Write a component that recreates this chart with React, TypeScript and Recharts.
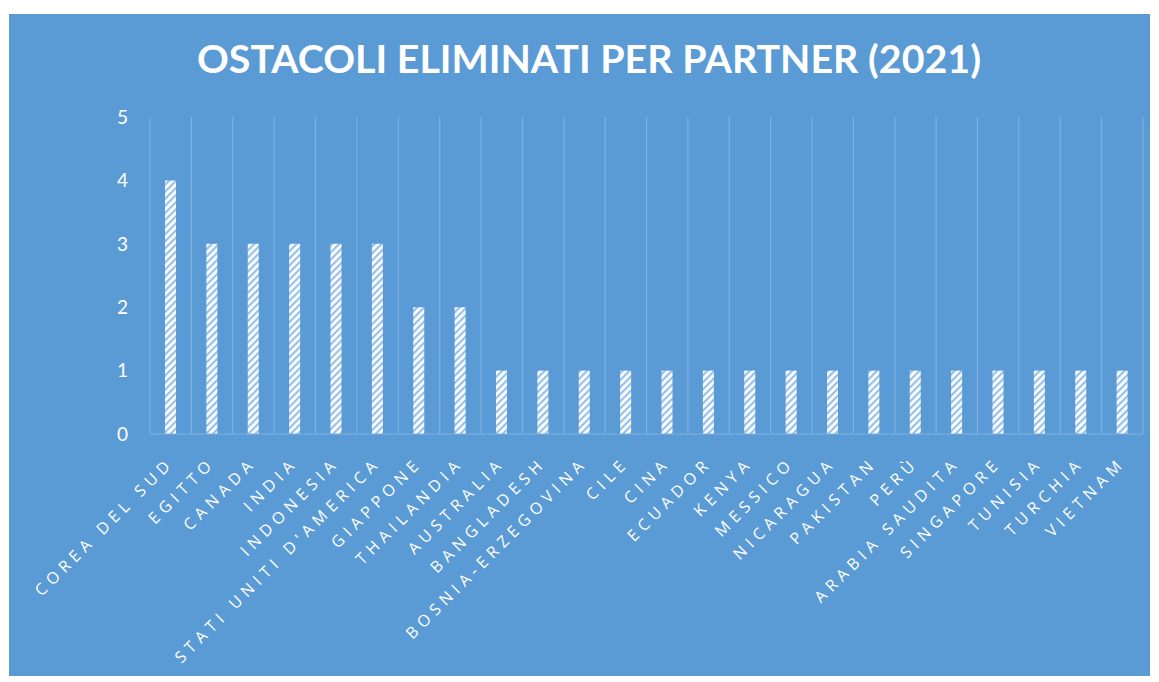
import { BarChart, Bar, XAxis, YAxis, CartesianGrid } from 'recharts';

const partners = [
  'COREA DEL SUD',
  'EGITTO',
  'CANADA',
  'INDIA',
  'INDONESIA',
  "STATI UNITI D'AMERICA",
  'GIAPPONE',
  'THAILANDIA',
  'AUSTRALIA',
  'BANGLADESH',
  'BOSNIA-ERZEGOVINA',
  'CILE',
  'CINA',
  'ECUADOR',
  'KENYA',
  'MESSICO',
  'NICARAGUA',
  'PAKISTAN',
  'PERÙ',
  'ARABIA SAUDITA',
  'SINGAPORE',
  'TUNISIA',
  'TURCHIA',
  'VIETNAM',
];
const ostacoli = [4, 3, 3, 3, 3, 3, 2, 2, 1, 1, 1, 1, 1, 1, 1, 1, 1, 1, 1, 1, 1, 1, 1, 1];
const yTicks = [0, 1, 2, 3, 4, 5];

const BG = '#5B9BD5';
const GRID = '#7FB0E0';
const FONT = 'Lato, "Open Sans", sans-serif';
const LABEL_FONT = '"Open Sans", sans-serif';

const data = partners.map((name, i) => ({ name, value: ostacoli[i] }));

function PartnerTick({ x, y, payload }: any) {
  return (
    <g transform={`translate(${x},${y})`}>
      <text
        x={4}
        y={28}
        transform="rotate(-45, 4, 28)"
        textAnchor="end"
        fill="#fff"
        fontSize={16}
        letterSpacing={5.2}
        fontFamily={LABEL_FONT}
      >
        {payload.value}
      </text>
    </g>
  );
}

export default function App() {
  const W = 1141;
  const H = 662;
  return (
    <div style={{ position: 'relative', width: W, height: H, marginLeft: 1, marginTop: 6, background: BG }}>
      <svg width={W} height={80} style={{ position: 'absolute', left: 0, top: 0 }}>
        <text
          x={580}
          y={59}
          textAnchor="middle"
          fill="#fff"
          fontSize={39}
          fontWeight={700}
          fontFamily={FONT}
          textLength={784}
          lengthAdjust="spacingAndGlyphs"
        >
          OSTACOLI ELIMINATI PER PARTNER (2021)
        </text>
      </svg>
      <BarChart
        width={W}
        height={H}
        data={data}
        margin={{ top: 103, right: 7, bottom: 0, left: 0 }}
        barCategoryGap={0}
      >
        <defs>
          <pattern id="hatch" patternUnits="userSpaceOnUse" width={5} height={5} patternTransform="rotate(45)">
            <rect width={5} height={5} fill="#fff" />
            <rect width={2.2} height={5} fill="#97C1EA" />
          </pattern>
        </defs>
        <CartesianGrid
          horizontal={false}
          stroke={GRID}
          strokeWidth={1.2}
          verticalCoordinatesGenerator={({ offset }: any) =>
            [...partners, ''].map((_, i) => offset.left + (i * offset.width) / partners.length)
          }
        />
        <XAxis
          dataKey="name"
          interval={0}
          tickLine={false}
          tickSize={0}
          axisLine={{ stroke: GRID, strokeWidth: 1.2 }}
          height={242}
          tick={<PartnerTick />}
        />
        <YAxis
          domain={[0, 5]}
          ticks={yTicks}
          width={141}
          axisLine={false}
          tickLine={false}
          tickSize={0}
          tickMargin={22}
          tick={{ fill: '#fff', fontSize: 19, fontFamily: FONT }}
        />
        <Bar dataKey="value" fill="url(#hatch)" barSize={11} isAnimationActive={false} />
      </BarChart>
    </div>
  );
}
